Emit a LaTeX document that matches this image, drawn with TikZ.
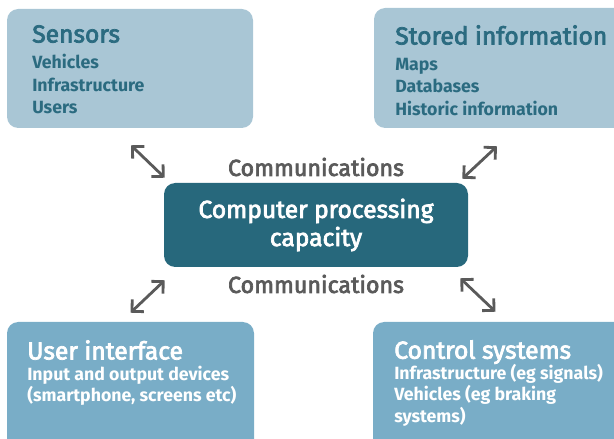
\documentclass[tikz,border=0pt]{standalone}
\usepackage{fontspec}
\setmainfont{Fira Sans}
\newfontfamily\medfont[RawFeature={embolden=3}]{Fira Sans}
\usetikzlibrary{positioning}
\usetikzlibrary{arrows.meta}
\usetikzlibrary{fit}
\definecolor{paleblue}{HTML}{A9C6D5}
\definecolor{midblue}{HTML}{79ADC7}
\definecolor{darkteal}{HTML}{27687C}
\definecolor{tealtext}{HTML}{2B6B80}
\definecolor{arrowgray}{HTML}{5A5A5A}
\newcommand{\heading}[1]{{\medfont\mdseries\fontsize{17.5}{22}\selectfont #1}}
\tikzset {
  x=0.025cm, y=-0.025cm,
  % the four outer boxes and the core box
  upper/.style={fill=paleblue, rounded corners=8pt, inner sep=0pt},
  lower/.style={fill=midblue, rounded corners=8pt, inner sep=0pt},
  core/.style={fill=darkteal, rounded corners=8pt, inner sep=0pt},
  % text inside the boxes
  boxtext/.style={anchor=north west, align=left, inner sep=0pt,
    font=\bfseries\fontsize{12.6}{15}\selectfont},
  toptext/.style={boxtext, text=tealtext, font=\bfseries\fontsize{12.6}{16}\selectfont},
  bottomtext/.style={boxtext, text=white},
  comm/.style={text=arrowgray, inner sep=0pt, font=\medfont\fontsize{16.5}{19}\selectfont},
  % double headed links
  link/.style={draw=arrowgray, line width=2pt,
    {Straight Barb[length=6pt,width=12pt]}-{Straight Barb[length=6pt,width=12pt]}},
}

\begin{document}
\begin{tikzpicture}
  \useasboundingbox (0,0) rectangle (614,439);

  \node[upper, fit={(7,9)(253,128)}] (sensors) {};
  \node[upper, fit={(374,8)(640,128)}] (stored) {};
  \node[lower, fit={(7,322)(254,460)}] (ui) {};
  \node[lower, fit={(373,322)(640,460)}] (control) {};
  \node[core, fit={(164,183)(468,267)}] (cpu) {};

  \node[toptext] (sensorstext) at (32,25)
    {\heading{Sensors}\\[2.5pt] Vehicles\\ Infrastructure\\ Users};
  \node[toptext] (storedtext) at (395,25)
    {\heading{Stored information}\\[2.5pt] Maps\\ Databases\\ Historic information};
  \node[bottomtext] (uitext) at (27,340)
    {\heading{User interface}\\ Input and output devices\\ (smartphone, screens etc)};
  \node[bottomtext] (controltext) at (394,340)
    {\heading{Control systems}\\ Infrastructure (eg signals)\\ Vehicles (eg braking\\ systems)};

  \node[align=center, text=white, font=\medfont\fontsize{17.5}{20}\selectfont] (cputext) at (cpu.center)
    {Computer processing\\ capacity};

  \node[comm] (commtop) at (316,167) {Communications};
  \node[comm] (commbottom) at (316,284) {Communications};

  \draw[link] ([shift={(1,17)}]sensors.south) -- ([shift={(1,-5)}]cpu.north west);
  \draw[link] ([shift={(-6,-4)}]cpu.north east) -- ([shift={(-10,18)}]stored.south);
  \draw[link] ([shift={(0,-9)}]ui.north) -- ([shift={(1,13)}]cpu.south west);
  \draw[link] ([shift={(-8,11)}]cpu.south east) -- ([shift={(-11,-10)}]control.north);
\end{tikzpicture}
\end{document}
